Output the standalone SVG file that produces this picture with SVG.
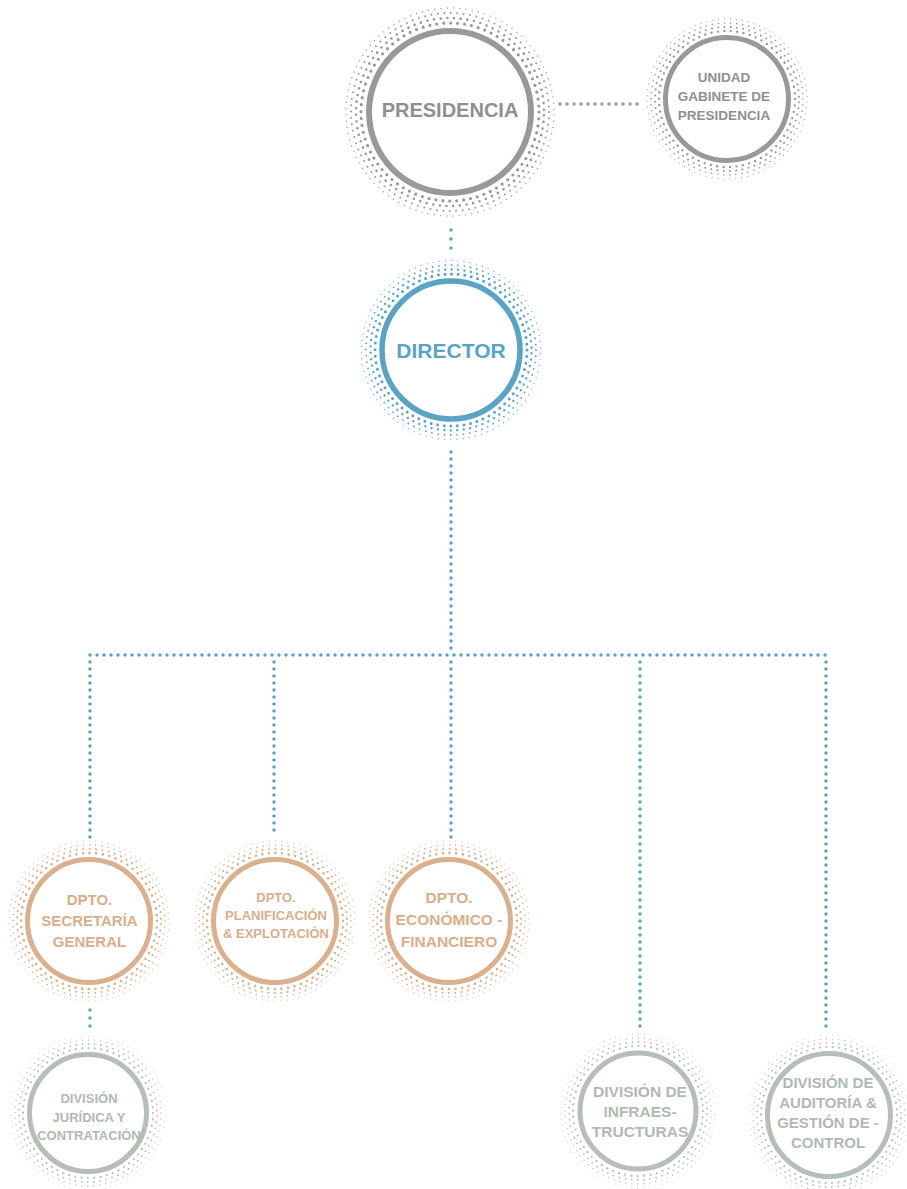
<svg xmlns="http://www.w3.org/2000/svg" width="907" height="1189" viewBox="0 0 907 1189">
<style>
.ring{fill:#fff;}
.dot{fill:none;stroke-linecap:round;}
.lbl{font-family:"Liberation Sans",Arial,sans-serif;font-weight:bold;text-anchor:middle;}
.gray{stroke:#999999;}
.blue{stroke:#5AA3C5;}
.tan{stroke:#DAB08F;}
.sage{stroke:#B5BFB7;}
.tgray{fill:#8F8F8F;}
.tblue{fill:#5AA3C5;}
.ttan{fill:#D8AE8C;}
.tsage{fill:#B0BAB2;}
.conn{fill:none;stroke-linecap:round;stroke-width:3.5;}
</style>
<rect width="907" height="1189" fill="#fff"/>

<g id="connectors">
  <line class="conn gray" x1="560" y1="104" x2="638" y2="104" stroke-dasharray="0 7"/>
  <line class="conn blue" x1="451" y1="230" x2="451" y2="249" stroke-dasharray="0 9"/>
  <line class="conn blue" x1="451" y1="452" x2="451" y2="655" stroke-dasharray="0 7"/>
  <line class="conn blue" x1="90" y1="655" x2="826" y2="655" stroke-dasharray="0 7"/>
  <line class="conn blue" x1="90" y1="662" x2="90" y2="838" stroke-dasharray="0 7"/>
  <line class="conn blue" x1="274" y1="662" x2="274" y2="833" stroke-dasharray="0 7"/>
  <line class="conn blue" x1="451" y1="662" x2="451" y2="838" stroke-dasharray="0 7"/>
  <line class="conn blue" x1="640" y1="662" x2="640" y2="1031" stroke-dasharray="0 7"/>
  <line class="conn blue" x1="826" y1="662" x2="826" y2="1031" stroke-dasharray="0 7"/>
  <line class="conn blue" x1="90" y1="1010" x2="90" y2="1034" stroke-dasharray="0 8"/>
</g>

<g id="presidencia">
  <circle class="dot gray" cx="450" cy="112" r="89" stroke-width="3.2" stroke-dasharray="0 6.99"/>
  <circle class="dot gray" cx="450" cy="112" r="94" stroke-width="2.6" stroke-dasharray="0 6.712" transform="rotate(2 450 112)"/>
  <circle class="dot gray" cx="450" cy="112" r="99" stroke-width="2" stroke-dasharray="0 6.479"/>
  <circle class="dot gray" cx="450" cy="112" r="104" stroke-width="1.4" stroke-dasharray="0 6.283" transform="rotate(1.7 450 112)"/>
  <circle class="ring gray" cx="450" cy="112" r="81" stroke-width="6"/>
  <text class="lbl tgray" x="450" y="117" font-size="20">PRESIDENCIA</text>
</g>

<g id="unidad">
  <circle class="dot gray" cx="727" cy="99" r="68" stroke-width="2.4" stroke-dasharray="0 6.474"/>
  <circle class="dot gray" cx="727" cy="99" r="72" stroke-width="2" stroke-dasharray="0 6.283" transform="rotate(2.5 727 99)"/>
  <circle class="dot gray" cx="727" cy="99" r="76" stroke-width="1.6" stroke-dasharray="0 6.122"/>
  <circle class="dot gray" cx="727" cy="99" r="80" stroke-width="1.1" stroke-dasharray="0 5.984" transform="rotate(2.1 727 99)"/>
  <circle class="ring gray" cx="727" cy="99" r="61.5" stroke-width="5"/>
  <text class="lbl tgray" font-size="13.5"><tspan x="724" y="82">UNIDAD</tspan><tspan x="724" y="101">GABINETE DE</tspan><tspan x="724" y="120">PRESIDENCIA</tspan></text>
</g>

<g id="director">
  <circle class="dot blue" cx="451" cy="350" r="76" stroke-width="3" stroke-dasharray="0 6.632"/>
  <circle class="dot blue" cx="451" cy="350" r="80.5" stroke-width="2.4" stroke-dasharray="0 6.485" transform="rotate(2.3 451 350)"/>
  <circle class="dot blue" cx="451" cy="350" r="85" stroke-width="1.8" stroke-dasharray="0 6.358"/>
  <circle class="dot blue" cx="451" cy="350" r="89.5" stroke-width="1.2" stroke-dasharray="0 6.248" transform="rotate(2 451 350)"/>
  <circle class="ring blue" cx="451" cy="350" r="69" stroke-width="5.5"/>
  <text class="lbl tblue" x="451" y="357.5" font-size="21">DIRECTOR</text>
</g>

<g id="dpto-secretaria">
  <circle class="dot tan" cx="89" cy="921" r="68" stroke-width="2.6" stroke-dasharray="0 6.676"/>
  <circle class="dot tan" cx="89" cy="921" r="72" stroke-width="2.1" stroke-dasharray="0 6.463" transform="rotate(2.6 89 921)"/>
  <circle class="dot tan" cx="89" cy="921" r="76" stroke-width="1.6" stroke-dasharray="0 6.283"/>
  <circle class="dot tan" cx="89" cy="921" r="80" stroke-width="1.1" stroke-dasharray="0 6.13" transform="rotate(2.2 89 921)"/>
  <circle class="ring tan" cx="89" cy="921" r="61.5" stroke-width="5"/>
  <text class="lbl ttan" font-size="15"><tspan x="89.5" y="905">DPTO.</tspan><tspan x="89.5" y="926">SECRETARÍA</tspan><tspan x="89.5" y="947">GENERAL</tspan></text>
</g>

<g id="dpto-planificacion">
  <circle class="dot tan" cx="275" cy="921" r="68" stroke-width="2.6" stroke-dasharray="0 6.676"/>
  <circle class="dot tan" cx="275" cy="921" r="72" stroke-width="2.1" stroke-dasharray="0 6.463" transform="rotate(2.6 275 921)"/>
  <circle class="dot tan" cx="275" cy="921" r="76" stroke-width="1.6" stroke-dasharray="0 6.283"/>
  <circle class="dot tan" cx="275" cy="921" r="80" stroke-width="1.1" stroke-dasharray="0 6.13" transform="rotate(2.2 275 921)"/>
  <circle class="ring tan" cx="275" cy="921" r="61.5" stroke-width="5"/>
  <text class="lbl ttan" font-size="13"><tspan x="276" y="902">DPTO.</tspan><tspan x="276" y="920">PLANIFICACIÓN</tspan><tspan x="276" y="938">&amp; EXPLOTACIÓN</tspan></text>
</g>

<g id="dpto-economico">
  <circle class="dot tan" cx="449" cy="921" r="68" stroke-width="2.6" stroke-dasharray="0 6.676"/>
  <circle class="dot tan" cx="449" cy="921" r="72" stroke-width="2.1" stroke-dasharray="0 6.463" transform="rotate(2.6 449 921)"/>
  <circle class="dot tan" cx="449" cy="921" r="76" stroke-width="1.6" stroke-dasharray="0 6.283"/>
  <circle class="dot tan" cx="449" cy="921" r="80" stroke-width="1.1" stroke-dasharray="0 6.13" transform="rotate(2.2 449 921)"/>
  <circle class="ring tan" cx="449" cy="921" r="61.5" stroke-width="5"/>
  <text class="lbl ttan" font-size="15.5"><tspan x="449" y="903">DPTO.</tspan><tspan x="449" y="925">ECONÓMICO -</tspan><tspan x="449" y="947">FINANCIERO</tspan></text>
</g>

<g id="division-juridica">
  <circle class="dot sage" cx="88" cy="1113" r="65" stroke-width="2.2" stroke-dasharray="0 6.381"/>
  <circle class="dot sage" cx="88" cy="1113" r="69" stroke-width="1.8" stroke-dasharray="0 6.193" transform="rotate(2.6 88 1113)"/>
  <circle class="dot sage" cx="88" cy="1113" r="73" stroke-width="1.4" stroke-dasharray="0 6.035"/>
  <circle class="dot sage" cx="88" cy="1113" r="77" stroke-width="1" stroke-dasharray="0 5.9" transform="rotate(2.2 88 1113)"/>
  <circle class="ring sage" cx="88" cy="1113" r="58.5" stroke-width="5"/>
  <text class="lbl tsage" font-size="13"><tspan x="89" y="1103">DIVISIÓN</tspan><tspan x="89" y="1122">JURÍDICA Y</tspan><tspan x="89" y="1140">CONTRATACIÓN</tspan></text>
</g>

<g id="division-infraestructuras">
  <circle class="dot sage" cx="638" cy="1111" r="65" stroke-width="2.2" stroke-dasharray="0 6.381"/>
  <circle class="dot sage" cx="638" cy="1111" r="69" stroke-width="1.8" stroke-dasharray="0 6.193" transform="rotate(2.6 638 1111)"/>
  <circle class="dot sage" cx="638" cy="1111" r="73" stroke-width="1.4" stroke-dasharray="0 6.035"/>
  <circle class="dot sage" cx="638" cy="1111" r="77" stroke-width="1" stroke-dasharray="0 5.9" transform="rotate(2.2 638 1111)"/>
  <circle class="ring sage" cx="638" cy="1111" r="58" stroke-width="5"/>
  <text class="lbl tsage" font-size="15.5"><tspan x="640" y="1097">DIVISIÓN DE</tspan><tspan x="640" y="1117">INFRAES-</tspan><tspan x="640" y="1137">TRUCTURAS</tspan></text>
</g>

<g id="division-auditoria">
  <circle class="dot sage" cx="829" cy="1115" r="68" stroke-width="2.2" stroke-dasharray="0 6.474"/>
  <circle class="dot sage" cx="829" cy="1115" r="72" stroke-width="1.8" stroke-dasharray="0 6.283" transform="rotate(2.5 829 1115)"/>
  <circle class="dot sage" cx="829" cy="1115" r="76" stroke-width="1.4" stroke-dasharray="0 6.122"/>
  <circle class="dot sage" cx="829" cy="1115" r="80" stroke-width="1" stroke-dasharray="0 5.984" transform="rotate(2.1 829 1115)"/>
  <circle class="ring sage" cx="829" cy="1115" r="61.5" stroke-width="5"/>
  <text class="lbl tsage" font-size="15"><tspan x="828" y="1088">DIVISIÓN DE</tspan><tspan x="828" y="1108">AUDITORÍA &amp;</tspan><tspan x="828" y="1128">GESTIÓN DE -</tspan><tspan x="828" y="1148">CONTROL</tspan></text>
</g>
</svg>
